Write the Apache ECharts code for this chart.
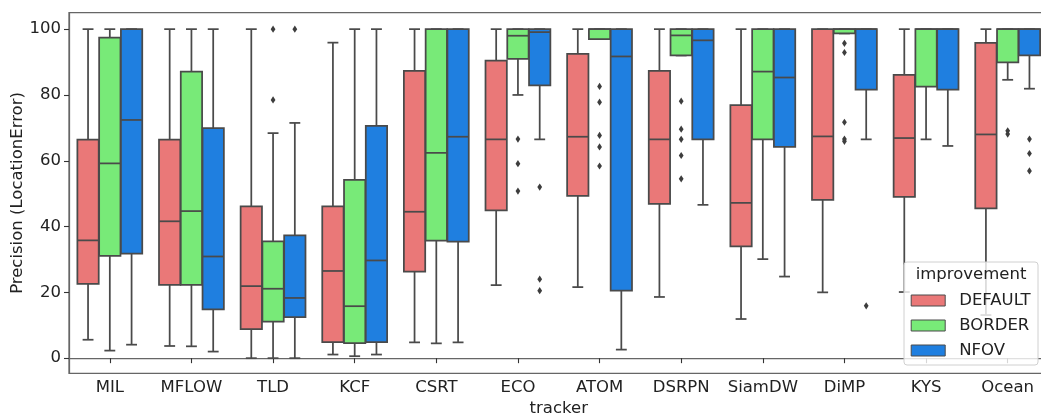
<!DOCTYPE html>
<html>
<head>
<meta charset="utf-8">
<script src="https://cdn.jsdelivr.net/npm/echarts@6/dist/echarts.min.js"></script>
<style>
html,body{margin:0;padding:0;background:#fff;}
#chart{width:1041px;height:416px;}
</style>
</head>
<body>
<div id="chart"></div>
<script>
// ---- data ----
const trackers = ['MIL','MFLOW','TLD','KCF','CSRT','ECO','ATOM','DSRPN','SiamDW','DiMP','KYS','Ocean'];
const hues = ['DEFAULT','BORDER','NFOV'];
const yTicks = [0,20,40,60,80,100];
// each row: [lowWhisker, Q1, median, Q3, highWhisker]
const defaultBoxes = [
  [5.6,22.6,35.8,66.4,100],
  [3.7,22.3,41.6,66.4,100],
  [0,8.8,21.9,46.1,100],
  [1.1,4.9,26.5,46.1,95.9],
  [4.8,26.3,44.5,87.3,100],
  [22.2,44.9,66.5,90.4,100],
  [21.6,49.3,67.3,92.5,100],
  [18.6,46.9,66.5,87.3,100],
  [11.9,34.0,47.2,76.9,100],
  [20.0,48.1,67.4,100,100],
  [20.1,49.0,66.9,86.1,100],
  [13.1,45.5,68.0,95.8,100]
];
const borderBoxes = [
  [2.3,31.1,59.2,97.4,100],
  [3.6,22.3,44.7,87.1,100],
  [0,11.1,21.1,35.5,68.4],
  [0.6,4.6,15.8,54.2,100],
  [4.5,35.7,62.4,100,100],
  [80.0,91.0,98.0,100,100],
  [97.0,97.0,100,100,100],
  [92.0,92.0,98.1,100,100],
  [30.1,66.5,87.1,100,100],
  [98.7,98.7,100,100,100],
  [66.5,82.5,100,100,100],
  [84.6,89.9,100,100,100]
];
const nfovBoxes = [
  [4.1,31.8,72.4,100,100],
  [2.0,14.8,30.9,69.9,100],
  [0,12.5,18.3,37.3,71.5],
  [1.1,4.9,29.7,70.6,100],
  [4.8,35.4,67.3,100,100],
  [66.5,82.9,99.1,100,100],
  [2.6,20.5,91.7,100,100],
  [46.6,66.5,96.6,100,100],
  [24.8,64.2,85.3,100,100],
  [66.5,81.6,100,100,100],
  [64.5,81.6,100,100,100],
  [81.9,92.0,100,100,100]
];
// outliers: [trackerIndex, value]
const defaultOutliers = [];
const borderOutliers = [
  [2,100],[2,78.5],
  [5,66.6],[5,59.1],[5,50.8],
  [6,82.6],[6,77.8],[6,67.7],[6,64.2],[6,58.4],
  [7,78.1],[7,69.6],[7,66.5],[7,61.6],[7,54.5],
  [9,95.7],[9,92.9],[9,71.7],[9,66.6],[9,65.9],
  [11,69.1],[11,68.1]
];
const nfovOutliers = [
  [2,100],
  [5,52.0],[5,24.0],[5,20.5],
  [9,15.9],
  [11,66.6],[11,62.2],[11,56.9]
];
const fills = ['#EA7878','#78EA78','#1F7FE0'];
const edge = '#4a4a4a';

// ---- rendering ----
function boxRender(hueIdx){
  return function(params, api){
    const ci = api.value(0);
    const band = api.size([1,0])[0];
    const w = band*0.8/3;
    const cx = api.coord([ci,0])[0] + (hueIdx-1)*w;
    const py = v => api.coord([ci,v])[1];
    const lo = py(api.value(1)), q1 = py(api.value(2)), md = py(api.value(3)), q3 = py(api.value(4)), hi = py(api.value(5));
    const hw = w*0.98/2, cw = w/4;
    const ls = {stroke: edge, lineWidth: 1.75, fill: null};
    return {type:'group', children:[
      {type:'line', shape:{x1:cx,y1:q1,x2:cx,y2:lo}, style:ls},
      {type:'line', shape:{x1:cx,y1:q3,x2:cx,y2:hi}, style:ls},
      {type:'line', shape:{x1:cx-cw,y1:lo,x2:cx+cw,y2:lo}, style:ls},
      {type:'line', shape:{x1:cx-cw,y1:hi,x2:cx+cw,y2:hi}, style:ls},
      {type:'rect', shape:{x:cx-hw,y:q3,width:2*hw,height:q1-q3}, style:{fill:fills[hueIdx], stroke:edge, lineWidth:1.75}},
      {type:'line', shape:{x1:cx-hw,y1:md,x2:cx+hw,y2:md}, style:ls}
    ]};
  };
}
function outlierRender(hueIdx){
  return function(params, api){
    const ci = api.value(0);
    const band = api.size([1,0])[0];
    const w = band*0.8/3;
    const p = api.coord([ci, api.value(1)]);
    const cx = p[0] + (hueIdx-1)*w, y = p[1];
    return {type:'polygon', shape:{points:[[cx,y-3.6],[cx+2.4,y],[cx,y+3.6],[cx-2.4,y]]}, style:{fill:'#3d3d3d'}};
  };
}
const boxSets = [defaultBoxes, borderBoxes, nfovBoxes];
const outSets = [defaultOutliers, borderOutliers, nfovOutliers];
const series = [];
hues.forEach((h,i)=>{
  series.push({
    name:h, type:'custom', renderItem: boxRender(i),
    encode:{x:0,y:[1,2,3,4,5]},
    itemStyle:{color:fills[i], borderColor:edge, borderWidth:1},
    data: boxSets[i].map((b,ci)=>[ci].concat(b)),
    z:2
  });
});
hues.forEach((h,i)=>{
  series.push({
    name:h+' outliers', type:'custom', renderItem: outlierRender(i),
    encode:{x:0,y:1},
    itemStyle:{color:'#3d3d3d'},
    data: outSets[i],
    z:3
  });
});

const font = 'DejaVu Sans';
const fs = 16.5;
const txt = '#222';
const chart = echarts.init(document.getElementById('chart'), null, {renderer:'canvas'});
chart.setOption({
  animation:false,
  backgroundColor:'#fff',
  grid:{left:69, right:-7.5, top:12.7, bottom:42.7, show:true, borderColor:'#666', borderWidth:1.25, outerBoundsMode:'none', containLabel:false},
  xAxis:{
    type:'category', data:trackers, boundaryGap:true,
    name:'tracker', nameLocation:'middle', nameGap:27, nameMoveOverlap:false,
    nameTextStyle:{fontFamily:font, fontSize:fs, color:txt},
    axisLine:{show:true, lineStyle:{color:'#666', width:1.25}},
    axisTick:{show:true, alignWithLabel:true, length:5, lineStyle:{color:'#333', width:1.1}},
    axisLabel:{fontFamily:font, fontSize:fs, color:txt, margin:6, interval:0},
    splitLine:{show:false}
  },
  yAxis:{
    type:'value', min:-4.6, max:105,
    name:'Precision (LocationError)', nameLocation:'middle', nameGap:43, nameRotate:90, nameMoveOverlap:false,
    nameTextStyle:{fontFamily:font, fontSize:fs, color:txt},
    axisLine:{show:true, lineStyle:{color:'#666', width:1.25}},
    axisTick:{show:true, length:5, customValues:yTicks, lineStyle:{color:'#333', width:1.1}},
    axisLabel:{fontFamily:font, fontSize:fs, color:txt, margin:8, customValues:yTicks},
    splitLine:{show:false}
  },
  legend:{
    data:hues, orient:'vertical', left:910.7, top:292, padding:0,
    icon:'rect', itemWidth:34, itemHeight:11, itemGap:8,
    itemStyle:{borderColor:edge, borderWidth:1},
    textStyle:{fontFamily:font, fontSize:fs, color:txt, lineHeight:16.5, padding:[0,0,0,9]},
    selectedMode:false, z:12
  },
  graphic:[
    {type:'rect', z:10, shape:{x:904, y:262, width:134, height:103, r:3}, style:{fill:'rgba(255,255,255,0.8)', stroke:'#d0d0d0', lineWidth:1}},
    {type:'text', z:11, x:971, y:275, style:{text:'improvement', fontFamily:font, fontSize:fs, fill:txt, align:'center', verticalAlign:'middle'}}
  ],
  series:series
});
</script>
</body>
</html>
